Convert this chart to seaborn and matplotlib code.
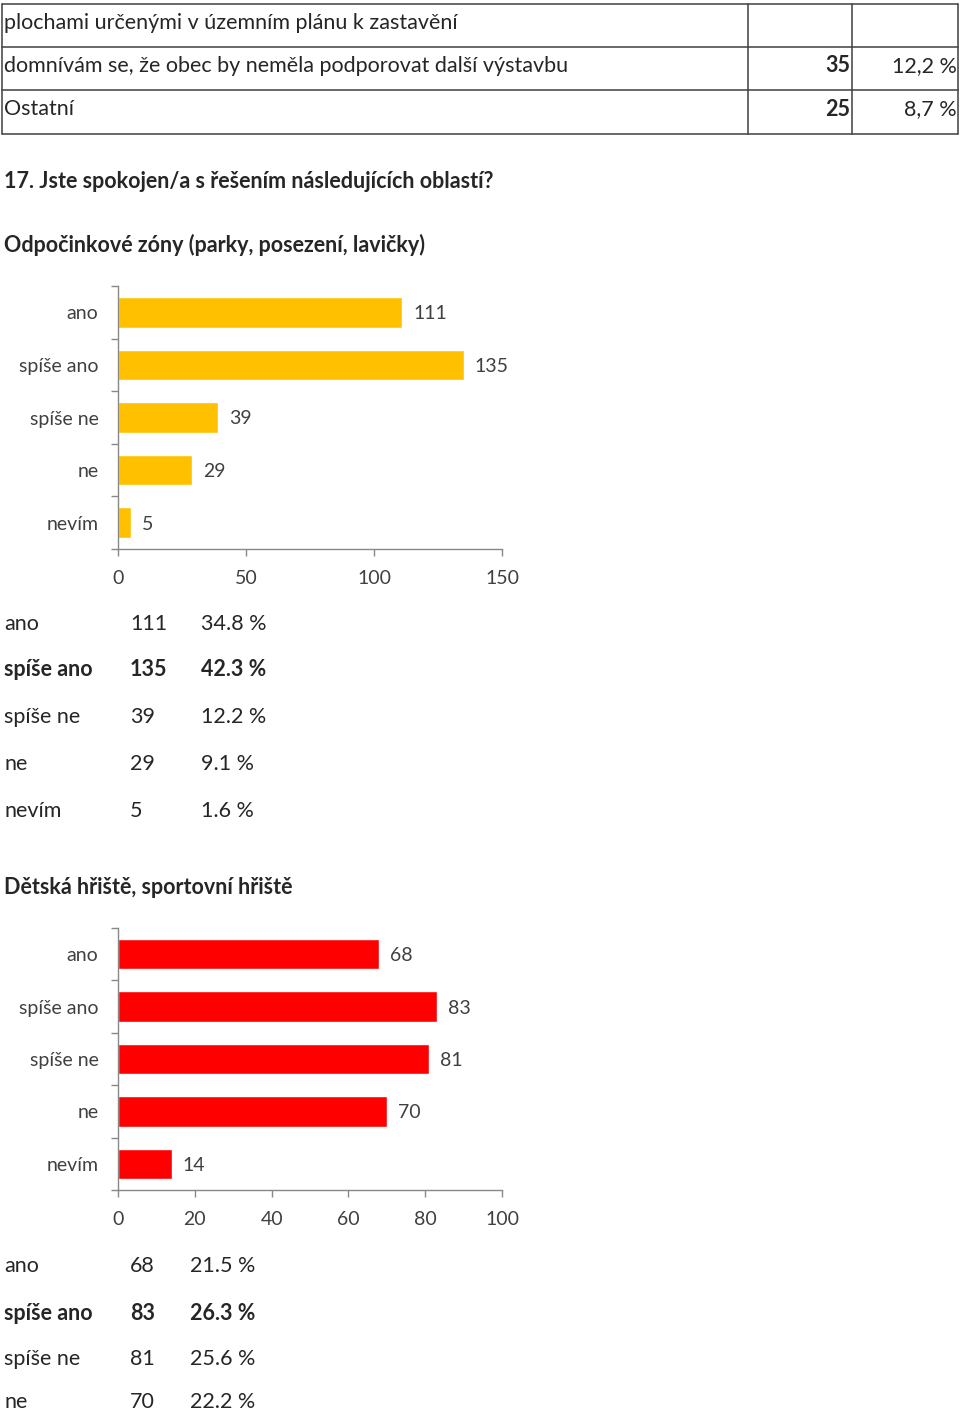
import matplotlib
matplotlib.use("Agg")
import matplotlib.pyplot as plt
import seaborn as sns
from matplotlib.ticker import FixedLocator

sns.set_style("white")
plt.rcParams['font.family'] = ['Lato', 'DejaVu Sans']

# ---- data ----
top_rows = ["plochami určenými v územním plánu k zastavění",
            "domnívám se, že obec by neměla podporovat další výstavbu",
            "Ostatní"]
top_counts = ["", "35", "25"]
top_pcts = ["", "12,2 %", "8,7 %"]

question = "17. Jste spokojen/a s řešením následujících oblastí?"
title1 = "Odpočinkové zóny (parky, posezení, lavičky)"
title2 = "Dětská hřiště, sportovní hřiště"

categories = ["ano", "spíše ano", "spíše ne", "ne", "nevím"]
values1 = [111, 135, 39, 29, 5]
pcts1 = ["34.8 %", "42.3 %", "12.2 %", "9.1 %", "1.6 %"]
xticks1 = [0, 50, 100, 150]

values2 = [68, 83, 81, 70, 14]
pcts2 = ["21.5 %", "26.3 %", "25.6 %", "22.2 %"]
xticks2 = [0, 20, 40, 60, 80, 100]

W, H = 960, 1412
fig = plt.figure(figsize=(W / 100, H / 100), dpi=100)

def fx(px):
    return px / W

def fy(py):
    return 1 - py / H

TXT = 15.5
LBL = 14
DY = 2
# ---- top table ----
border = "#404040"
for y in [4, 47, 90, 134]:
    fig.add_artist(plt.Line2D([fx(2), fx(958)], [fy(y), fy(y)], color=border, lw=1.1))
for x in [2, 748, 852, 958]:
    fig.add_artist(plt.Line2D([fx(x), fx(x)], [fy(4), fy(134)], color=border, lw=1.1))
row_y = [21, 64, 107]
for t, c, p, y in zip(top_rows, top_counts, top_pcts, row_y):
    fig.text(fx(4), fy(y + DY), t, fontsize=TXT, va="center", ha="left")
    if c:
        fig.text(fx(850), fy(y + DY), c, fontsize=TXT, va="center", ha="right", fontweight="bold")
    if p:
        fig.text(fx(957), fy(y + DY), p, fontsize=TXT, va="center", ha="right")

fig.text(fx(4), fy(179 + DY), question, fontsize=TXT, va="center", ha="left", fontweight="bold")
fig.text(fx(4), fy(243 + DY), title1, fontsize=TXT, va="center", ha="left", fontweight="bold")
fig.text(fx(4), fy(886 + DY), title2, fontsize=TXT, va="center", ha="left", fontweight="bold")

def chart(top, bottom, values, color, xticks):
    ax = fig.add_axes([fx(118), fy(bottom), fx(502) - fx(118), (bottom - top) / H])
    sns.barplot(x=values, y=categories, color=color, orient="h", width=0.58,
                ax=ax, saturation=1)
    ax.set_xlim(xticks[0], xticks[-1])
    ax.set_ylim(4.5, -0.5)
    ax.set_xticks(xticks)
    ax.set_xticklabels([str(v) for v in xticks])
    ax.yaxis.set_minor_locator(FixedLocator([i - 0.5 for i in range(6)]))
    ax.tick_params(axis="y", which="major", length=0, pad=14, labelsize=LBL, labelcolor="#404040")
    ax.tick_params(axis="y", which="minor", length=5, width=1, color="#888888", left=True)
    ax.tick_params(axis="x", which="major", length=5, width=1, color="#888888", bottom=True,
                   pad=10, labelsize=LBL, labelcolor="#404040")
    for s in ["top", "right"]:
        ax.spines[s].set_visible(False)
    for s in ["left", "bottom"]:
        ax.spines[s].set_color("#888888")
        ax.spines[s].set_linewidth(1)
    ax.set_xlabel("")
    ax.set_ylabel("")
    for t in ax.get_yticklabels():
        t.set_va("center_baseline")
    labels = ax.bar_label(ax.containers[0], padding=8, fontsize=LBL, color="#404040")
    for t in labels:
        t.set_va("center_baseline")
    ax.patch.set_alpha(0)
    return ax

chart(286, 549, values1, "#FFC000", xticks1)
chart(928, 1190, values2, "#FF0000", xticks2)

def table(ys, vals, pcts, pct_x, bold_idx=1):
    for i, (cat, v, p, y) in enumerate(zip(categories, vals, pcts, ys)):
        w = "bold" if i == bold_idx else "normal"
        fig.text(fx(4), fy(y + DY), cat, fontsize=TXT, va="center", ha="left", fontweight=w)
        fig.text(fx(130), fy(y + DY), str(v), fontsize=TXT, va="center", ha="left", fontweight=w)
        fig.text(fx(pct_x), fy(y + DY), p, fontsize=TXT, va="center", ha="left", fontweight=w)

table([622, 668, 715, 762, 809], values1, pcts1, 201)
table([1264, 1311, 1357, 1400], values2[:4], pcts2, 190)

fig.savefig("out.png", dpi=100)
